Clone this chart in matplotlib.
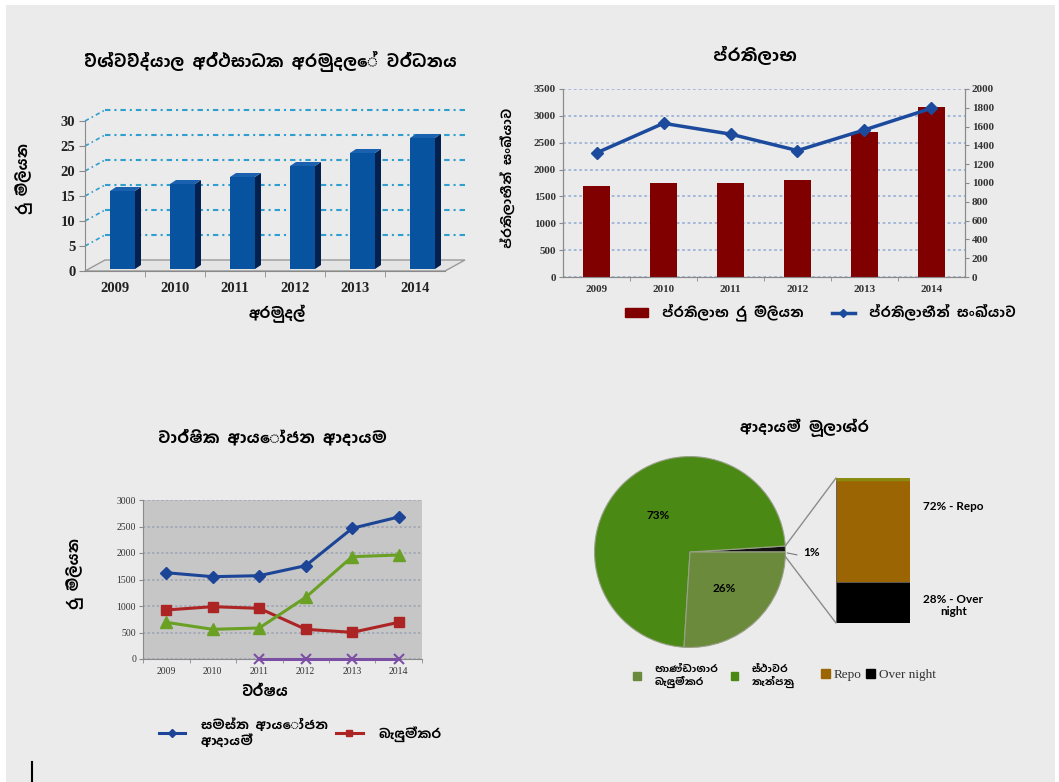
import numpy as np
import matplotlib
matplotlib.use("Agg")
import matplotlib.pyplot as plt
from matplotlib.patches import Rectangle, Polygon, ConnectionPatch
from matplotlib.lines import Line2D

# ---- data ----
years = ["2009", "2010", "2011", "2012", "2013", "2014"]

fund_growth = [15.6, 17.0, 18.4, 20.6, 23.2, 26.2]

benefit_amount = [1690, 1750, 1750, 1800, 2700, 3160]
beneficiaries = [1320, 1635, 1520, 1345, 1565, 1795]

invest_total = [1628, 1553, 1572, 1761, 2466, 2680]
invest_bonds = [925, 987, 956, 560, 503, 692]
invest_bills = [692, 560, 585, 1164, 1931, 1962]
invest_other = [np.nan, np.nan, 0, 0, 0, 0]

pie_shares = [1, 73, 26]          # other (repo + overnight), fixed deposits, bonds
pie_labels = ["1%", "73%", "26%"]
other_split = [28, 72]            # over night, repo
other_labels = ["28% - Over\nnight", "72% - Repo"]

t1 = "විශ්වවිද්යාල අර්ථසාධක අරමුදලේ වර්ධනය"
y1 = "රු මිලියන"
x1 = "අරමුදල්"
t2 = "ප්රතිලාභ"
y2 = "ප්රතිලාභීන් සංඛ්යාව"
leg2 = ["ප්රතිලාභ රු මිලියන", "ප්රතිලාභීන් සංඛ්යාව"]
t3 = "වාර්ෂික ආයෝජන ආදායම"
y3 = "රු මිලියන"
x3 = "වර්ෂය"
leg3 = ["සමස්ත ආයෝජන\nආදායම්", "බැඳුම්කර"]
t4 = "ආදායම් මූලාශ්ර"
leg4 = ["භාණ්ඩාගාර\nබැඳුම්කර", "ස්ථාවර\nතැන්පතු", "Repo", "Over night"]

SIN = ["Hind Colombo", "DejaVu Sans"]
SERIF = ["Liberation Serif", "DejaVu Serif"]
LAT = ["Lato", "DejaVu Sans"]


def sp(s):
    # the Sinhala font draws a zero-width space, use an en space instead
    return s.replace(" ", "\u2002")


W, H = 1059, 782
fig = plt.figure(figsize=(W / 100, H / 100), dpi=100, facecolor="white")
BG = "#ebebeb"
fig.patches.append(Rectangle((6 / W, 0), 1049 / W, 1 - 5 / H, transform=fig.transFigure,
                             facecolor=BG, edgecolor="none", zorder=-10))


def px_axes(l, t, r, b):
    return fig.add_axes([l / W, 1 - b / H, (r - l) / W, (b - t) / H])


def ftext(x, y, s, **kw):
    kw.setdefault("ha", "center")
    kw.setdefault("va", "center")
    return fig.text(x / W, 1 - y / H, s, **kw)


# ---- chart 1: pseudo 3D bars ----
ax1 = px_axes(85, 121, 445, 271)
ax1.set_xlim(0, 6)
ax1.set_ylim(0, 30)
ax1.patch.set_visible(False)
pxx, pxy = 6 / 360, 30 / 150        # data units per pixel
wdx, wdy = 20 * pxx, 11 * pxy       # depth of walls
grid_c = "#2f9fd0"
ds = (0, (2.6, 1.9, 1.0, 1.9))
ax1.add_patch(Polygon([(0, 0), (6, 0), (6 + wdx, wdy), (wdx, wdy)], closed=True,
                      facecolor="#e4e4e4", edgecolor="#9a9a9a", lw=1, clip_on=False, zorder=1))
for v in range(5, 31, 5):
    ax1.plot([wdx, 6 + wdx], [v + wdy, v + wdy], color=grid_c, lw=1.5, ls=ds, clip_on=False, zorder=1)
    ax1.plot([0, wdx], [v, v + wdy], color=grid_c, lw=1.2, ls=ds, clip_on=False, zorder=1)

bx = np.arange(6) + 0.625
bw = 25 * pxx
base = 2 * pxy
ax1.bar(bx, fund_growth, width=bw, bottom=base, color="#0753a0", edgecolor="none", zorder=3)
sdx, sdy = 6 * pxx, 4 * pxy
for x, v in zip(bx, fund_growth):
    xl, xr, top = x - bw / 2, x + bw / 2, v + base
    ax1.add_patch(Polygon([(xr, base), (xr + sdx, base + sdy), (xr + sdx, top + sdy), (xr, top)],
                          closed=True, facecolor="#03204f", edgecolor="none", zorder=3, clip_on=False))
    ax1.add_patch(Polygon([(xl, top), (xr, top), (xr + sdx, top + sdy), (xl + sdx, top + sdy)],
                          closed=True, facecolor="#1a62b0", edgecolor="none", zorder=3, clip_on=False))

for s in ["top", "right"]:
    ax1.spines[s].set_visible(False)
ax1.spines["left"].set_color("#8a8a8a")
ax1.spines["bottom"].set_color("#8a8a8a")
ax1.set_yticks(range(0, 31, 5))
ax1.set_xticks(np.arange(6) + 0.5)
ax1.set_xticklabels(years)
ax1.set_xticks(range(1, 6), minor=True)
ax1.tick_params(axis="y", length=4, color="#8a8a8a", pad=3)
ax1.tick_params(axis="x", which="major", length=0, pad=8)
ax1.tick_params(axis="x", which="minor", length=4, color="#8a8a8a")
for lab in ax1.get_xticklabels() + ax1.get_yticklabels():
    lab.set_fontfamily(SERIF)
    lab.set_fontsize(10.5)
    lab.set_fontweight("bold")
    lab.set_color("#222222")

ftext(270, 62, sp(t1), family=SIN, fontsize=12, fontweight="bold")
ftext(24, 178, sp(y1), family=SIN, fontsize=10.5, fontweight="bold", rotation=90)
ftext(277, 314, sp(x1), family=SIN, fontsize=10.5, fontweight="bold")

# ---- chart 2: bars + line on twin axis ----
ax2 = px_axes(563, 89, 965, 277)
x2 = np.arange(6)
ax2.bar(x2, benefit_amount, width=0.4, color="#800000", zorder=3)
ax2.set_xlim(-0.5, 5.5)
ax2.set_ylim(0, 3500)
ax2.set_yticks(range(0, 3501, 500))
ax2.set_xticks(x2)
ax2.set_xticklabels(years)
ax2.set_xticks(np.arange(0.5, 5, 1), minor=True)
ax2.patch.set_visible(False)
ax2.grid(axis="y", color="#9fb4d8", ls=(0, (1.5, 1.5)), lw=1.3, zorder=0)
ax2.set_axisbelow(True)
ax2.spines["top"].set_visible(False)
for s in ["left", "right", "bottom"]:
    ax2.spines[s].set_color("#8a8a8a")
ax2r = ax2.twinx()
ax2r.plot(x2, beneficiaries, color="#1c4a9c", lw=2.5, marker="D", ms=6.5, zorder=4)
ax2r.set_ylim(0, 2000)
ax2r.set_yticks(range(0, 2001, 200))
ax2r.spines["top"].set_visible(False)
for s in ["left", "right", "bottom"]:
    ax2r.spines[s].set_color("#8a8a8a")
for a in (ax2, ax2r):
    a.tick_params(axis="y", length=3, color="#8a8a8a", pad=2, labelsize=8)
ax2.tick_params(axis="x", which="major", length=0, pad=6, labelsize=8)
ax2.tick_params(axis="x", which="minor", length=3, color="#8a8a8a")
for lab in ax2.get_xticklabels() + ax2.get_yticklabels() + ax2r.get_yticklabels():
    lab.set_fontfamily(SERIF)
    lab.set_fontweight("bold")
    lab.set_color("#333333")

ftext(755, 55, sp(t2), family=SIN, fontsize=12.5, fontweight="bold")
ftext(508, 178, sp(y2), family=SIN, fontsize=9.5, fontweight="bold", rotation=90)
h2 = [Rectangle((0, 0), 1, 1, color="#800000"),
      Line2D([], [], color="#1c4a9c", lw=2.5, marker="D", ms=4)]
fig.legend(h2, [sp(s) for s in leg2], loc="center left", bbox_to_anchor=(612 / W, 1 - 313 / H),
           ncol=2, frameon=False, prop={"family": SIN, "size": 10, "weight": "bold"},
           handlelength=1.7, handleheight=0.6, handletextpad=1.0, columnspacing=2.0)

# ---- chart 3: lines ----
ax3 = px_axes(143, 500, 422, 659)
x3v = np.arange(6)
ax3.set_facecolor("#c6c6c6")
ax3.plot(x3v, invest_total, color="#1d4597", lw=2.2, marker="D", ms=6, label=sp(leg3[0]), zorder=4)
ax3.plot(x3v, invest_bonds, color="#ad2424", lw=2.2, marker="s", ms=7, label=sp(leg3[1]), zorder=4)
ax3.plot(x3v, invest_bills, color="#6aa125", lw=2.2, marker="^", ms=8, zorder=4)
ax3.plot(x3v, invest_other, color="#7b4fa3", lw=2.2, marker="x", ms=7, mew=1.5, zorder=4, clip_on=False)
ax3.set_xlim(-0.5, 5.5)
ax3.set_ylim(0, 3000)
ax3.set_yticks(range(0, 3001, 500))
ax3.set_xticks(x3v)
ax3.set_xticklabels(years)
ax3.set_xticks(np.arange(-0.5, 6, 1), minor=True)
ax3.grid(axis="y", color="#9aa3b3", ls=(0, (1.5, 1.5)), lw=1.1)
ax3.set_axisbelow(True)
for s in ["top", "right"]:
    ax3.spines[s].set_visible(False)
for s in ["left", "bottom"]:
    ax3.spines[s].set_color("#8a8a8a")
ax3.tick_params(axis="y", length=3, color="#8a8a8a", pad=2, labelsize=7)
ax3.tick_params(axis="x", which="major", length=0, pad=6, labelsize=7)
ax3.tick_params(axis="x", which="minor", length=3, color="#8a8a8a")
for lab in ax3.get_xticklabels() + ax3.get_yticklabels():
    lab.set_fontfamily(SERIF)
    lab.set_color("#333333")

ftext(272, 437, sp(t3), family=SIN, fontsize=11.5, fontweight="bold")
ftext(75, 573, sp(y3), family=SIN, fontsize=10.5, fontweight="bold", rotation=90)
ftext(265, 692, sp(x3), family=SIN, fontsize=10.5, fontweight="bold")
h3, l3 = ax3.get_legend_handles_labels()
fig.legend(h3, l3, loc="upper left", bbox_to_anchor=(147 / W, 1 - 706 / H), ncol=2, frameon=False,
           prop={"family": SIN, "size": 9.5, "weight": "bold"}, handlelength=2.0,
           handletextpad=1.2, columnspacing=0.6, markerscale=0.7)

# ---- chart 4: bar of pie ----
ax4 = px_axes(585, 447, 795, 657)
ax4.axis("off")
wedges, _ = ax4.pie(pie_shares, startangle=0, counterclock=True, radius=1.0,
                    colors=["#111111", "#4a8a14", "#6b8a3c"],
                    wedgeprops={"edgecolor": "#9aa08a", "lw": 0.8})
ax4.set_xlim(-1.1, 1.1)
ax4.set_ylim(-1.1, 1.1)
for t, (xx, yy) in zip(pie_labels[1:], [(-0.33, 0.38), (0.36, -0.38)]):
    ax4.text(xx, yy, t, ha="center", va="center", family=LAT, fontweight="bold", fontsize=8.5)
ax4.text(1.27, 0.0, pie_labels[0], ha="center", va="center", family=LAT, fontweight="bold", fontsize=8.5)
ax4.plot([1.02, 1.12], [-0.01, -0.03], color="#777777", lw=0.8, clip_on=False)

ax5 = px_axes(836, 478, 910, 623)
ax5.bar([0], [other_split[0]], width=1, color="#000000", edgecolor="#555555", lw=0.6)
ax5.bar([0], [other_split[1]], bottom=[other_split[0]], width=1, color="#9c6503",
        edgecolor="#555555", lw=0.6)
ax5.plot([-0.5, 0.5], [99.3, 99.3], color="#8a8a10", lw=2.5)
ax5.set_xlim(-0.5, 0.5)
ax5.set_ylim(0, 100)
ax5.axis("off")
ax5.text(0.68, other_split[0] + other_split[1] * 0.73, other_labels[1], ha="left", va="center",
         family=LAT, fontweight="bold", fontsize=8.5)
ax5.text(0.68, 12, other_labels[0], ha="left", va="center", multialignment="center",
         family=LAT, fontweight="bold", fontsize=8.5, linespacing=1.1)
a_top = np.deg2rad(pie_shares[0] * 3.6)
for p_pie, p_bar in [((np.cos(a_top), np.sin(a_top)), (-0.5, 100)), ((1.0, -0.05), (-0.5, 0))]:
    fig.add_artist(ConnectionPatch(p_pie, p_bar, coordsA=ax4.transData, coordsB=ax5.transData,
                                   color="#8c8c8c", lw=1))

ftext(804, 428, sp(t4), family=SIN, fontsize=11, fontweight="bold")
pie_cols = ["#6b8a3c", "#4a8a14", "#9c6503", "#000000"]
h4 = [Rectangle((0, 0), 1, 1, color=c) for c in pie_cols]
fig.legend(h4[:2], [sp(s) for s in leg4[:2]], loc="center left",
           bbox_to_anchor=(624 / W, 1 - 676 / H), ncol=2, frameon=False,
           prop={"family": SIN, "size": 7.5, "weight": "bold"},
           handlelength=0.7, handleheight=0.7, handletextpad=1.3, columnspacing=1.2)
leg_b = fig.legend(h4[2:], leg4[2:], loc="center left", bbox_to_anchor=(809 / W, 1 - 675 / H),
                   ncol=2, frameon=False, prop={"family": SERIF, "size": 9.5},
                   handlelength=0.7, handleheight=0.7, handletextpad=0.3, columnspacing=0.3)
for txt in leg_b.get_texts():
    txt.set_color("#333333")

fig.add_artist(Line2D([32 / W, 32 / W], [0, 20 / H], color="black", lw=1.5))

fig.savefig("out.png", dpi=100, facecolor="white")
